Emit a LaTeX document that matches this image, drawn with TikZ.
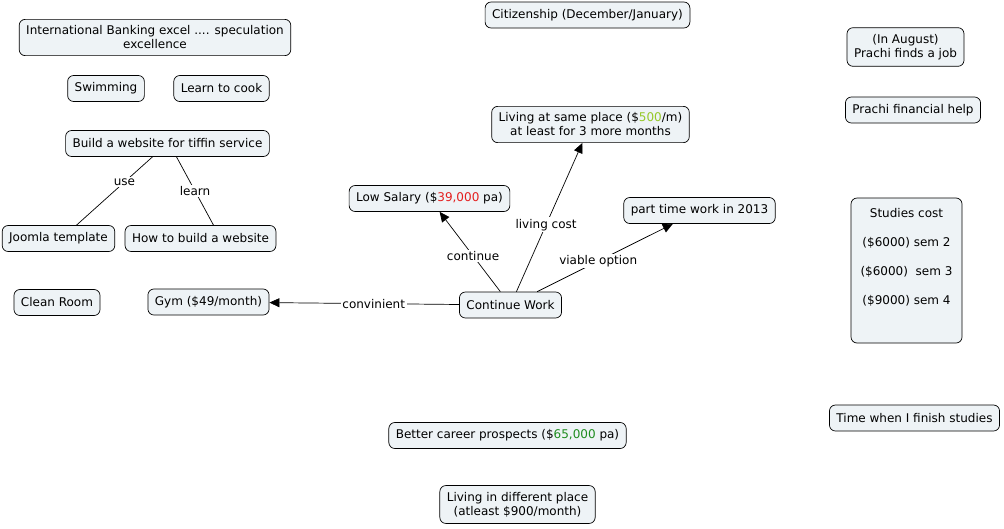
\documentclass[tikz,border=0pt]{standalone}
\usepackage{fontspec}
\setmainfont{DejaVu Sans}
\usetikzlibrary{arrows.meta}
\definecolor{boxfill}{RGB}{238,243,246}
\definecolor{salred}{RGB}{228,30,30}
\definecolor{rentgreen}{RGB}{150,200,40}
\definecolor{paygreen}{RGB}{30,140,30}
\tikzset{
  idea/.style={draw,rounded corners=6pt,fill=boxfill,line width=0.7pt,minimum height=26pt,
    inner xsep=7pt,inner ysep=6.5pt,align=center,font=\fontsize{12}{14}\selectfont},
  link/.style={line width=0.7pt},
  arr/.style={link,-{Triangle[length=10pt,width=9pt]}},
  lbl/.style={fill=white,inner sep=1.5pt,font=\fontsize{12}{14}\selectfont}
}
\begin{document}
\begin{tikzpicture}[x=1pt,y=-1pt]
   \useasboundingbox (0,0) rectangle (1004,528);
   % left column
   \node[idea] (bank) at (155,37.5) {International Banking excel .... speculation\\excellence};
   \node[idea] (swim) at (106,88.5) {Swimming};
   \node[idea] (cook) at (221.5,88.5) {Learn to cook};
   \node[idea] (site) at (167.5,143.5) {Build a website for tiffin service};
   \node[idea] (joomla) at (58.5,238.5) {Joomla template};
   \node[idea] (howto) at (200.5,238.5) {How to build a website};
   \node[idea] (room) at (57,302.5) {Clean Room};
   \node[idea] (gym) at (208.5,302) {Gym (\$49/month)};
   % middle
   \node[idea] (citizen) at (587.5,15) {Citizenship (December/January)};
   \node[idea] (same) at (590.5,124.5) {Living at same place (\$\textcolor{rentgreen}{500}/m)\\at least for 3 more months};
   \node[idea] (low) at (429.5,198.5) {Low Salary (\$\textcolor{salred}{39,000} pa)};
   \node[idea] (part) at (699.5,210.5) {part time work in 2013};
   \node[idea] (work) at (510.5,305) {Continue Work};
   \node[idea] (better) at (507.5,435.5) {Better career prospects (\$\textcolor{paygreen}{65,000} pa)};
   \node[idea] (diff) at (517.5,504.5) {Living in different place\\(atleast \$900/month)};
   % right column
   \node[idea] (job) at (905.5,47) {(In August)\\Prachi finds a job};
   \node[idea] (help) at (913,110) {Prachi financial help};
   \node[idea,minimum width=111pt,minimum height=145pt,font=\fontsize{12}{29}\selectfont] (study) at (906.5,270.5)
     {Studies cost\\(\$6000) sem 2\\(\$6000)\ \ sem 3\\(\$9000) sem 4\\};
   \node[idea] (finish) at (914.5,418) {Time when I finish studies};
   % links
   \draw[link] ([xshift=-15pt]site.south) -- node[lbl,pos=0.37] {use} ([xshift=18pt]joomla.north);
   \draw[link] ([xshift=9pt]site.south) -- node[lbl] {learn} ([xshift=13pt]howto.north);
   \foreach \to/\l in {gym/convinient, low/continue, same/living cost, part/viable option}
     \draw[arr] (work) -- node[lbl,pos=0.45] {\l} (\to);
\end{tikzpicture}
\end{document}
